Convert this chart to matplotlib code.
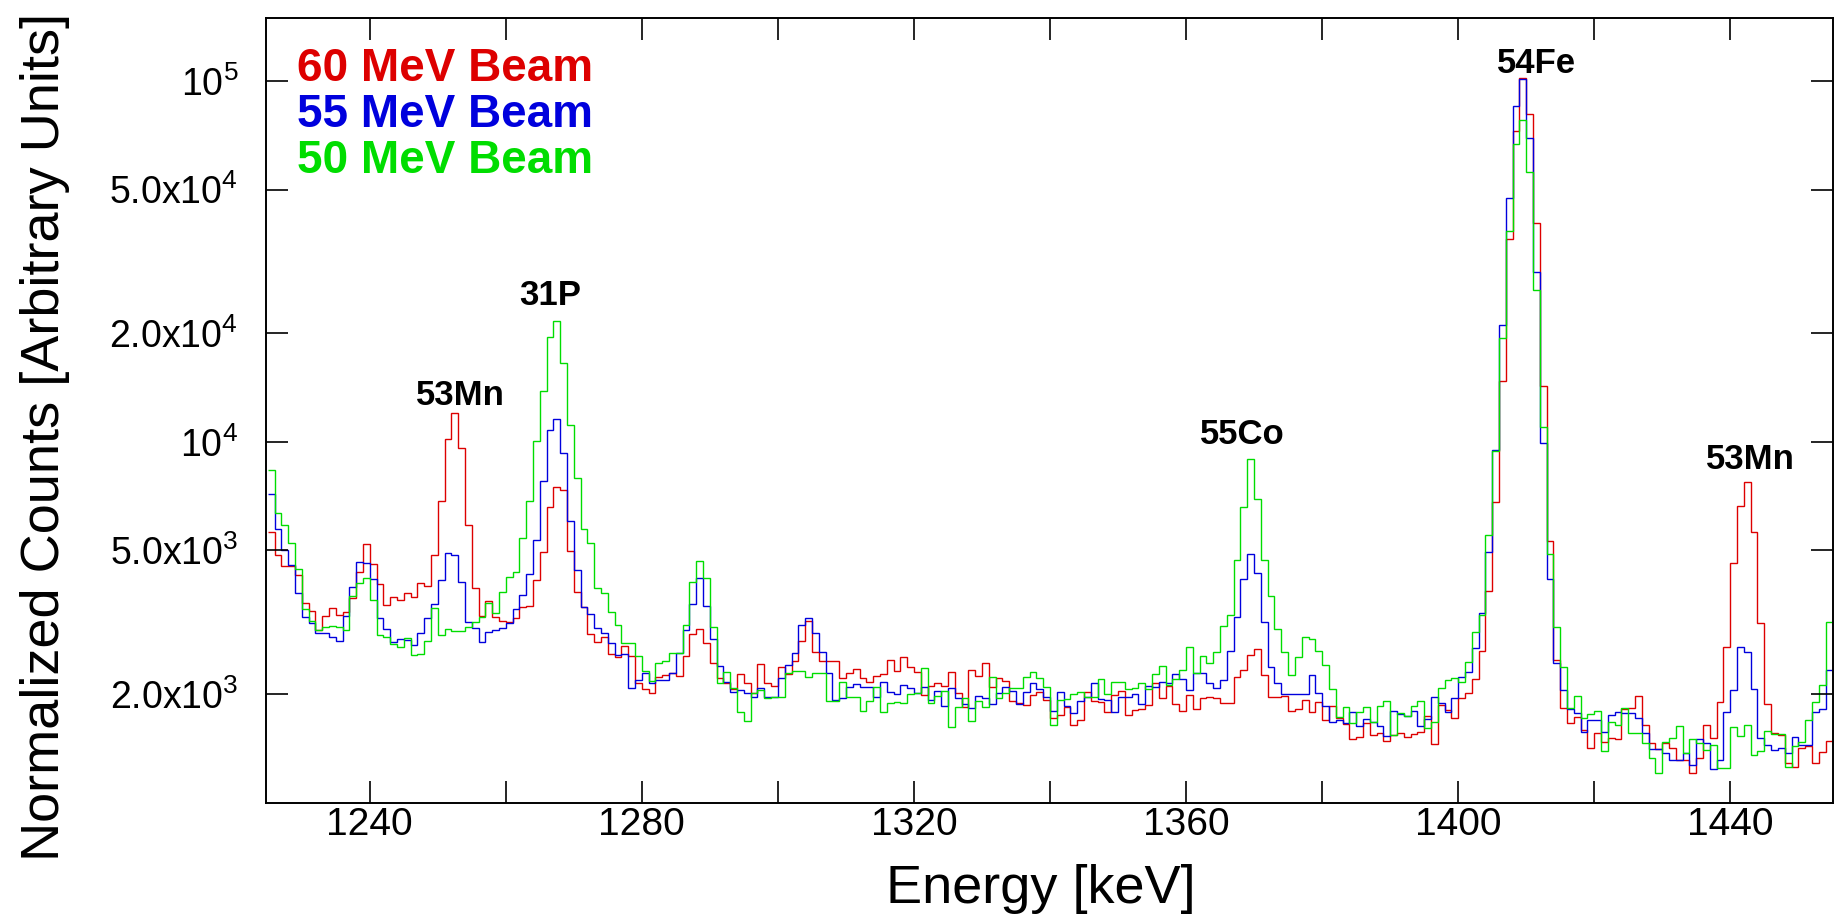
import matplotlib
matplotlib.use("Agg")
import matplotlib.pyplot as plt
from matplotlib.ticker import MultipleLocator, NullLocator, FixedLocator

plt.rcParams['font.family'] = ['Liberation Sans', 'DejaVu Sans']
plt.rcParams['mathtext.fontset'] = 'custom'
plt.rcParams['mathtext.rm'] = 'Liberation Sans'
plt.rcParams['mathtext.it'] = 'Liberation Sans:italic'
plt.rcParams['mathtext.bf'] = 'Liberation Sans:bold'

# histogram range, 1 keV bins
e_first = 1225
e_last = 1455

# normalized counts per bin
counts_60 = [
    5635, 4842, 4525, 4525, 4275, 3567, 3405, 3010, 3280, 3458,
    3313, 3365, 3685, 4350, 5210, 4580, 4030, 3530, 3710, 3640,
    3805, 3715, 4055, 3995, 4842, 6855, 10170, 12000, 9590, 5890,
    3930, 3280, 3610, 3265, 3180, 3160, 3245, 3478, 3510, 4130,
    4955, 6610, 7515, 7350, 4965, 3828, 3491, 2931, 2793, 2870,
    2583, 2529, 2718, 2548, 2142, 2061, 2018, 2224, 2259, 2293,
    2244, 2541, 2932, 3020, 2763, 2432, 2210, 2142, 2061, 2270,
    2148, 2010, 2415, 2148, 2104, 2382, 2270, 2460, 2812, 3190,
    2620, 2460, 2460, 2460, 2210, 2293, 2350, 2220, 2163, 2244,
    2266, 2483, 2316, 2537, 2371, 2306, 1984, 2104, 2149, 2104,
    2296, 2009, 1844, 2329, 2244, 2432, 2094, 2218, 2178, 1911,
    1892, 1859, 1984, 2027, 1923, 1718, 1750, 1836, 1637, 1694,
    2027, 1911, 1897, 1779, 1988, 2042, 1750, 1804, 1820, 1864,
    2138, 1954, 2108, 1876, 1795, 1984, 1820, 1945, 1965, 1945,
    1884, 1884, 2224, 2329, 2558, 2659, 2258, 1965, 1957, 1974,
    1798, 1813, 1923, 1787, 1897, 1694, 1852, 1711, 1651, 1500,
    1523, 1659, 1535, 1555, 1482, 1539, 1555, 1523, 1549, 1571,
    1738, 1449, 1864, 1804, 1711, 1945, 2009, 2198, 2637, 3846,
    6820, 14750, 36420, 72890, 101800, 81060, 40330, 14280, 5320, 2485,
    1833, 1658, 1723, 1589, 1420, 1556, 1475, 1507, 1497, 1813,
    1825, 1974, 1641, 1459, 1408, 1459, 1414, 1312, 1312, 1205,
    1326, 1641, 1507, 1904, 2693, 4624, 6637, 7720, 5636, 3140,
    1876, 1556, 1539, 1284, 1258, 1420, 1438, 1284, 1384, 1484,
]

counts_55 = [
    7145, 5715, 5010, 4545, 3820, 3265, 3155, 2950, 2950, 2870,
    2808, 3280, 3960, 4635, 4605, 4160, 3237, 3030, 2780, 2845,
    2822, 2730, 2950, 3237, 3540, 4130, 4910, 4855, 4080, 3175,
    3055, 2780, 2965, 3010, 3045, 3140, 3435, 3770, 4300, 5345,
    7800, 10790, 11580, 9290, 6040, 4415, 3478, 3334, 3042, 2945,
    2763, 2565, 2583, 2075, 2190, 2282, 2142, 2190, 2190, 2282,
    2594, 3010, 3554, 4200, 3510, 2836, 2393, 2163, 2030, 2051,
    2018, 1960, 2075, 1960, 1965, 2210, 2405, 2594, 3105, 3243,
    2960, 2612, 2282, 1926, 1945, 2086, 2128, 2095, 2094, 1959,
    2163, 2027, 2000, 2113, 2074, 2018, 2094, 1923, 2042, 1857,
    2081, 1945, 1872, 1824, 1978, 1945, 1876, 2018, 2086, 2042,
    1872, 2027, 2149, 2061, 1959, 1795, 2027, 1857, 1767, 1911,
    1959, 2149, 1932, 1918, 1779, 1965, 1959, 2000, 1872, 2108,
    2094, 2163, 2138, 2270, 2198, 2047, 2281, 2291, 2149, 2074,
    2188, 2630, 3273, 4156, 4875, 4316, 3170, 2371, 2149, 2000,
    2000, 2000, 2000, 2258, 2009, 1857, 1673, 1694, 1659, 1779,
    1634, 1702, 1675, 1634, 1531, 1795, 1754, 1735, 1795, 1634,
    1702, 1959, 1884, 1787, 1945, 2235, 2296, 2688, 3360, 4945,
    9500, 21080, 47320, 85310, 101100, 69400, 29630, 9945, 4166, 2432,
    2051, 1813, 1767, 1572, 1694, 1694, 1572, 1749, 1779, 1767,
    1767, 1712, 1556, 1408, 1408, 1369, 1312, 1312, 1369, 1271,
    1497, 1459, 1236, 1312, 1779, 2051, 2704, 2620, 2060, 1507,
    1444, 1398, 1414, 1369, 1516, 1444, 1444, 1786, 1813, 2330,
]

counts_50 = [
    8350, 6350, 5890, 5250, 4445, 3435, 3190, 3005, 3070, 3090,
    3070, 3005, 3730, 4065, 4185, 3640, 2907, 2870, 2745, 2705,
    2860, 2560, 2575, 2810, 3455, 2907, 3035, 2990, 2990, 3060,
    3170, 3270, 3565, 3345, 3825, 4225, 4355, 5400, 6855, 10030,
    13860, 19560, 21670, 16500, 11140, 7955, 5715, 5250, 3940, 3800,
    3380, 3098, 2760, 2760, 2553, 2320, 2172, 2432, 2470, 2592,
    2592, 3105, 4078, 4672, 4200, 3073, 2148, 2305, 2073, 1785,
    1682, 2008, 2055, 1945, 1960, 1965, 2280, 2320, 2320, 2233,
    2290, 2290, 1914, 1914, 2163, 1965, 1965, 1790, 1906, 2086,
    1779, 1884, 1897, 1884, 2000, 2018, 2355, 1892, 1974, 2042,
    1622, 1836, 1945, 1683, 1906, 1836, 2224, 1945, 2018, 2081,
    2081, 2224, 2306, 2210, 2094, 1637, 1923, 1932, 1995, 2023,
    1959, 1959, 2198, 2000, 2163, 2163, 2065, 2074, 2138, 2061,
    2270, 2388, 2118, 2198, 2323, 2705, 2281, 2553, 2432, 2608,
    3090, 3311, 4700, 6605, 8935, 6950, 4700, 3745, 3033, 2608,
    2258, 2537, 2884, 2846, 2630, 2406, 2060, 1722, 1844, 1659,
    1787, 1844, 1675, 1857, 1911, 1539, 1767, 1741, 1857, 1911,
    1606, 1668, 2074, 2188, 2210, 2163, 2455, 2970, 3311, 5505,
    9440, 19360, 38410, 66780, 78030, 55850, 26360, 11010, 4887, 3060,
    2380, 1825, 1974, 1712, 1760, 1794, 1390, 1676, 1641, 1825,
    1556, 1556, 1459, 1326, 1205, 1475, 1507, 1630, 1369, 1497,
    1459, 1398, 1444, 1244, 1244, 1623, 1530, 1641, 1354, 1393,
    1582, 1549, 1549, 1258, 1435, 1469, 1694, 1896, 2118, 3173,
]

beam_names = ['60 MeV Beam', '55 MeV Beam', '50 MeV Beam']
beam_colors = ['#dd0000', '#0000dd', '#00dd00']

peak_names = ['53Mn', '31P', '55Co', '54Fe', '53Mn']

y_ticks = [2e3, 5e3, 1e4, 2e4, 5e4, 1e5]
y_ticklabels = [r'2.0x10$^{3}$', r'5.0x10$^{3}$', r'10$^{4}$',
                r'2.0x10$^{4}$', r'5.0x10$^{4}$', r'10$^{5}$']

edges = list(range(e_first, e_last + 1))

fig = plt.figure(figsize=(18.37, 9.16), dpi=100)
ax = fig.add_axes([266 / 1837, 1 - 802.5 / 916, 1567 / 1837, 784.9 / 916])

for counts, col in zip([counts_60, counts_55, counts_50], beam_colors):
    ax.stairs(counts, edges, baseline=None, color=col, linewidth=1.0)

ax.set_yscale('log')
ax.set_xlim(1224.75, 1455.1)
ax.set_ylim(1000, 1.5e5)

ax.xaxis.set_major_locator(MultipleLocator(40))
ax.xaxis.set_minor_locator(MultipleLocator(20))
ax.yaxis.set_major_locator(FixedLocator(y_ticks))
ax.yaxis.set_minor_locator(NullLocator())
ax.set_yticklabels(y_ticklabels)

ax.tick_params(axis='x', which='both', direction='in', length=16, width=1.2,
               top=True, labelsize=28, pad=3)
ax.tick_params(axis='y', which='both', direction='in', length=16, width=1.2,
               right=True, labelsize=27, pad=20)
for sp in ax.spines.values():
    sp.set_linewidth(1.4)

# beam legend as coloured text
for i, (name, col) in enumerate(zip(beam_names, beam_colors)):
    ax.text(0.0198, 0.9192 - 0.0588 * i, name, transform=ax.transAxes,
            color=col, fontsize=33, fontweight='bold', va='baseline')

# peak labels
label_xy = [(0.1238, 0.5064), (0.1812, 0.6338), (0.6233, 0.4567),
            (0.8105, 0.9290), (0.9470, 0.4245)]
for name, (x, y) in zip(peak_names, label_xy):
    ax.text(x, y, name, transform=ax.transAxes, fontsize=25,
            fontweight='bold', ha='center', va='baseline')

fig.text(0.5667, 0.0142, 'Energy [keV]', ha='center', va='baseline', fontsize=39)
fig.text(0.0245, 0.523, 'Normalized Counts [Arbitrary Units]', rotation=90,
         ha='center', va='center', fontsize=39)

fig.savefig('out.png', dpi=100)
